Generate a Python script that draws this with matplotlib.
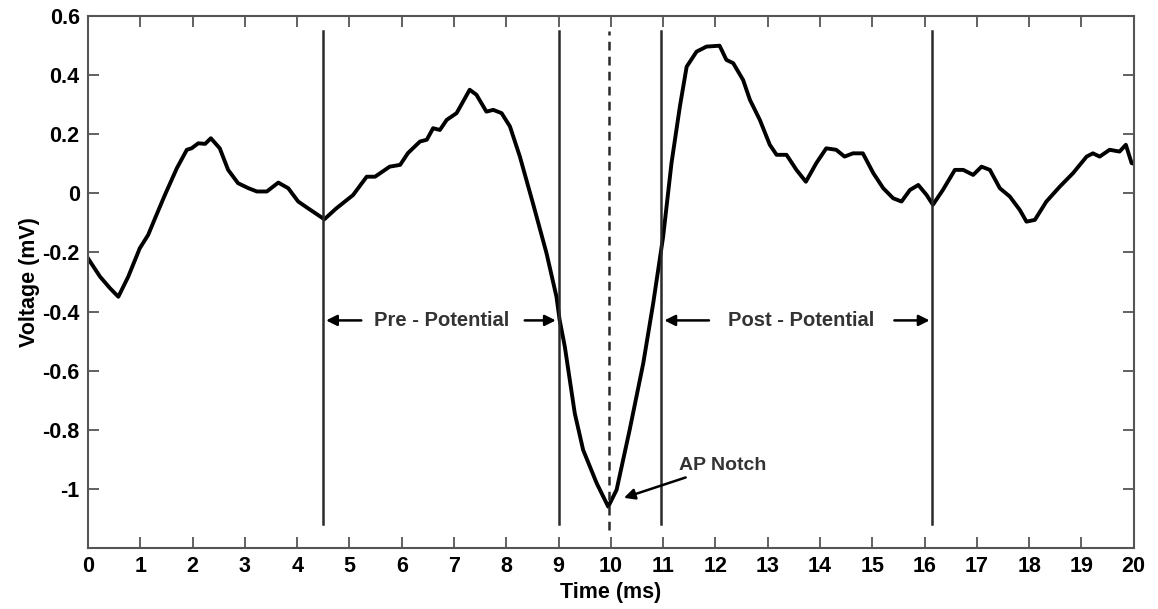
import numpy as np
import matplotlib
matplotlib.use('Agg')
import matplotlib.pyplot as plt

plt.rcParams['font.family'] = ['Liberation Sans', 'DejaVu Sans']
plt.rcParams['font.weight'] = 'bold'

# recorded trace, time in ms and voltage in mV
t = [0.00, 0.04, 0.23, 0.42, 0.58, 0.77, 0.99, 1.15, 1.31, 1.47, 1.70, 1.89, 1.98,
     2.11, 2.24, 2.35, 2.52, 2.68, 2.87, 3.07, 3.23, 3.42, 3.64, 3.83, 4.02, 4.21,
     4.52, 4.75, 5.07, 5.33, 5.49, 5.77, 5.97, 6.12, 6.35, 6.48, 6.60, 6.73, 6.86,
     7.05, 7.30, 7.43, 7.62, 7.75, 7.91, 8.07, 8.26, 8.51, 8.77, 8.96, 9.02, 9.12,
     9.31, 9.47, 9.73, 9.95, 10.11, 10.36, 10.62, 10.81, 11.00, 11.16, 11.32, 11.45,
     11.64, 11.83, 12.08, 12.21, 12.34, 12.53, 12.66, 12.85, 13.04, 13.17, 13.36,
     13.55, 13.73, 13.93, 14.12, 14.31, 14.47, 14.63, 14.82, 15.02, 15.21, 15.40,
     15.56, 15.72, 15.88, 16.04, 16.16, 16.35, 16.58, 16.74, 16.93, 17.09, 17.25,
     17.44, 17.63, 17.82, 17.95, 18.11, 18.33, 18.59, 18.84, 19.10, 19.22, 19.35,
     19.54, 19.73, 19.85, 19.96, 20.00]
v = [-0.22, -0.231, -0.282, -0.321, -0.35, -0.282, -0.186, -0.141, -0.073, -0.006,
     0.085, 0.147, 0.152, 0.169, 0.167, 0.186, 0.152, 0.079, 0.034, 0.017, 0.006,
     0.006, 0.036, 0.017, -0.028, -0.051, -0.088, -0.051, -0.006, 0.056, 0.056, 0.09,
     0.096, 0.136, 0.175, 0.181, 0.22, 0.214, 0.248, 0.271, 0.35, 0.333, 0.276, 0.282,
     0.271, 0.226, 0.124, -0.034, -0.203, -0.35, -0.428, -0.519, -0.744, -0.868,
     -0.981, -1.06, -1.003, -0.80, -0.575, -0.372, -0.147, 0.102, 0.293, 0.428, 0.479,
     0.496, 0.499, 0.451, 0.44, 0.383, 0.316, 0.248, 0.164, 0.130, 0.130, 0.079,
     0.039, 0.102, 0.152, 0.147, 0.124, 0.135, 0.135, 0.068, 0.017, -0.017, -0.028,
     0.011, 0.028, -0.006, -0.039, 0.011, 0.079, 0.079, 0.062, 0.09, 0.079, 0.017,
     -0.011, -0.056, -0.096, -0.09, -0.028, 0.023, 0.068, 0.124, 0.135, 0.124, 0.147,
     0.141, 0.164, 0.102, 0.10]

# window boundaries (ms)
markers = [4.5, 9.0, 10.95, 16.15]
notch_t = 9.96

fig = plt.figure(figsize=(11.58, 6.09), dpi=100)
ax = fig.add_axes([0.076, 0.100, 0.903, 0.874])

ax.plot(t, v, color='black', lw=2.8, solid_joinstyle='round')

for m in markers:
    ax.plot([m, m], [-1.12, 0.55], color='#2a2a2a', lw=1.8)
ax.plot([notch_t, notch_t], [-1.14, 0.55], color='#2a2a2a', lw=1.8,
        linestyle=(0, (3.5, 2.5)))

arrow = dict(arrowstyle='-|>', color='black', lw=1.8, mutation_scale=16)
ya = -0.43
ax.annotate('', xy=(4.5, ya), xytext=(5.28, ya), arrowprops=arrow)
ax.annotate('', xy=(9.0, ya), xytext=(8.3, ya), arrowprops=arrow)
ax.text(6.77, ya, 'Pre - Potential', ha='center', va='center', fontsize=14.5,
        color='#333333')
ax.annotate('', xy=(10.97, ya), xytext=(11.93, ya), arrowprops=arrow)
ax.annotate('', xy=(16.15, ya), xytext=(15.37, ya), arrowprops=arrow)
ax.text(13.63, ya, 'Post - Potential', ha='center', va='center', fontsize=14.5,
        color='#333333')

ax.annotate('AP Notch', xy=(10.25, -1.03), xytext=(11.3, -0.92),
            fontsize=14, color='#333333', va='center',
            arrowprops=dict(arrowstyle='-|>', color='black', lw=1.8,
                            mutation_scale=16, shrinkA=2, shrinkB=0))

ax.set_xlim(0, 20)
ax.set_ylim(-1.2, 0.6)
ax.set_xticks(np.arange(0, 21, 1))
ax.set_yticks([-1, -0.8, -0.6, -0.4, -0.2, 0, 0.2, 0.4, 0.6])
ax.set_yticklabels(['-1', '-0.8', '-0.6', '-0.4', '-0.2', '0', '0.2', '0.4', '0.6'])
ax.tick_params(direction='in', length=8, width=1.3, color='#555555',
               top=True, right=True, labelsize=15.5, pad=6)
for lab in ax.get_xticklabels() + ax.get_yticklabels():
    lab.set_fontweight('bold')
for s in ax.spines.values():
    s.set_color('#555555')
    s.set_linewidth(1.5)

ax.set_xlabel('Time (ms)', fontsize=15.5, fontweight='bold', labelpad=3)
ax.set_ylabel('Voltage (mV)', fontsize=15.5, fontweight='bold', labelpad=2)

fig.savefig('out.png', dpi=100)
